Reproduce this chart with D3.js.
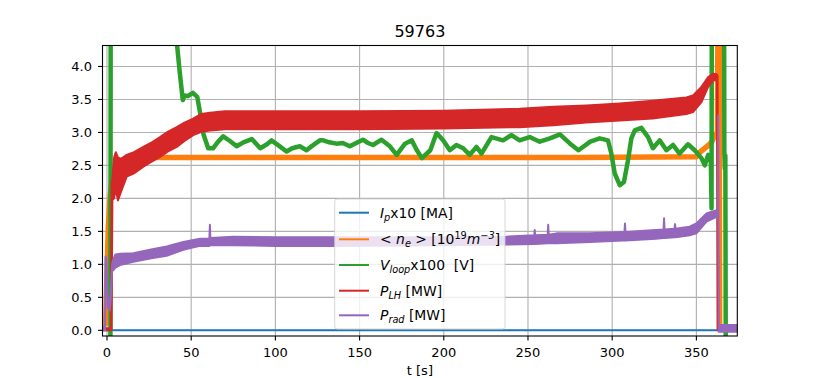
<!DOCTYPE html>
<html>
<head>
<meta charset="utf-8">
<script src="https://cdn.jsdelivr.net/npm/d3@7"></script>
<style>
body { margin: 0; background: white; }
text { font-family: "DejaVu Sans", sans-serif; white-space: pre; }
</style>
</head>
<body>
<script>
// values
const shot = '59763';
const xTicks = [0, 50, 100, 150, 200, 250, 300, 350];
const yTicks = [0.0, 0.5, 1.0, 1.5, 2.0, 2.5, 3.0, 3.5, 4.0];

const tIp = [-2.7, 100, 200, 300, 363.0];
const ipVal = [0.0, 0.0, 0.0, 0.0, 0.0];

const tNe = [-2.7, -0.8, -0.3, 0.8, 1.8, 3.7, 5.5, 8, 12, 20, 60, 120, 200, 280, 350, 352, 356, 359, 361, 362.5, 363.4, 363.8, 374.3];
const neVal = [0.1, 0.1, 0.6, 1.57, 2.02, 2.43, 2.52, 2.57, 2.61, 2.62, 2.62, 2.62, 2.62, 2.62, 2.63, 2.70, 2.78, 2.85, 2.96, 3.0, 8, 0.04, 0.04];

const tVloop = [-2.7, 2.0, 2.3, 41.0, 41.7, 43.3, 45, 46, 48, 51, 53.6, 55.2, 57.2, 60.1, 63, 66, 69, 73, 77, 81, 86, 91, 95, 97.7, 102, 106.6, 110, 114.5, 118.5, 122, 126.4, 128.4, 132, 136.3, 140, 144.2, 148, 152, 155, 158, 163, 168, 172, 177, 181, 184, 187, 192, 195.7, 199.6, 203.6, 207.5, 211.5, 215.4, 219.4, 222.4, 228.3, 235.2, 240.2, 245, 251, 257, 263, 269, 275, 280, 287, 292.6, 297.5, 299.5, 301.5, 304.5, 307, 309.4, 311.4, 313.4, 317.3, 321.3, 324.2, 328.2, 332.2, 336.1, 340, 345, 349, 353, 355, 357, 358.6, 359.0, 359.3, 366.3, 366.6, 366.9, 367.2, 367.5, 374.3];
const vloopVal = [-1, -1, 8, 4.5, 4.3, 3.89, 3.49, 3.56, 3.55, 3.60, 3.54, 3.31, 2.98, 2.76, 2.76, 2.86, 2.94, 2.87, 2.79, 2.85, 2.90, 2.76, 2.82, 2.88, 2.80, 2.71, 2.76, 2.79, 2.73, 2.80, 2.88, 2.88, 2.85, 2.83, 2.84, 2.79, 2.84, 2.89, 2.84, 2.81, 2.89, 2.79, 2.66, 2.83, 2.88, 2.73, 2.61, 2.73, 2.99, 2.88, 2.73, 2.81, 2.76, 2.66, 2.78, 2.68, 2.93, 2.88, 2.96, 2.88, 2.93, 2.86, 2.91, 2.97, 2.83, 2.73, 2.86, 2.91, 2.88, 2.68, 2.38, 2.20, 2.25, 2.58, 2.91, 3.03, 3.07, 2.93, 2.76, 2.88, 2.73, 2.81, 2.68, 2.82, 2.73, 2.61, 2.50, 2.66, 2.55, 1.85, 8, 8, 2.70, 2.45, 2.65, -1, -1];

const tPlh = [-2.7, 2.3, 2.7, 3.2, 4.2, 5.2, 6.5, 8.3, 11.7, 16, 21.6, 26, 31.5, 36, 41.4, 46, 51.2, 56, 61.2, 70, 100, 150, 200, 245, 265, 284.7, 304.5, 324, 344, 348, 353, 357, 360, 362.2, 362.6, 363, 374.3];
const plhHi = [0.03, 0.03, 2.23, 2.3, 2.62, 2.70, 2.62, 2.60, 2.66, 2.70, 2.78, 2.84, 2.93, 3.01, 3.08, 3.15, 3.21, 3.28, 3.30, 3.32, 3.32, 3.32, 3.33, 3.36, 3.39, 3.41, 3.44, 3.48, 3.53, 3.56, 3.69, 3.84, 3.89, 3.88, 3.85, 0.03, 0.03];
const plhLo = [0.0, 0.0, 0.0, 1.98, 2.0, 2.15, 1.97, 2.10, 2.33, 2.38, 2.48, 2.55, 2.63, 2.71, 2.78, 2.87, 2.96, 3.01, 3.03, 3.05, 3.05, 3.05, 3.06, 3.08, 3.11, 3.15, 3.18, 3.21, 3.28, 3.31, 3.46, 3.69, 3.79, 3.79, 0.0, 0.0, 0.0];

const tPrad = [-2.7, -1.2, -0.9, -0.3, 0.4, 1.6, 2.2, 3.0, 3.7, 5, 7.7, 15.6, 25.5, 35.4, 45.3, 55.2, 60.8, 61.1, 61.4, 75, 100, 135, 200, 237, 253.7, 254, 254.3, 261.7, 262, 262.3, 267, 286.6, 306.4, 307.3, 307.6, 307.9, 326, 330.5, 330.8, 331.1, 337, 337.3, 337.6, 346, 350, 356, 362, 362.8, 363.0, 363.3, 374.3];
const pradHi = [0.05, 0.05, 1.12, 1.10, 0.45, 0.45, 0.55, 1.0, 1.07, 1.15, 1.16, 1.17, 1.22, 1.27, 1.34, 1.39, 1.39, 1.60, 1.40, 1.42, 1.41, 1.41, 1.41, 1.42, 1.44, 1.52, 1.44, 1.45, 1.60, 1.45, 1.47, 1.47, 1.49, 1.49, 1.62, 1.49, 1.52, 1.53, 1.70, 1.53, 1.54, 1.61, 1.54, 1.57, 1.62, 1.77, 1.82, 1.84, 3.26, 0.08, 0.08];
const pradLo = [0.0, 0.0, 1.05, 1.0, 0.35, 0.3, 0.45, 0.9, 0.91, 0.95, 0.99, 1.04, 1.09, 1.13, 1.22, 1.28, 1.28, 1.30, 1.29, 1.29, 1.28, 1.28, 1.29, 1.30, 1.31, 1.31, 1.31, 1.32, 1.32, 1.32, 1.32, 1.34, 1.36, 1.36, 1.36, 1.36, 1.39, 1.40, 1.40, 1.40, 1.41, 1.41, 1.41, 1.44, 1.47, 1.65, 1.72, 1.72, 1.70, -0.02, -0.02];

const legendLabels = [
    [['I', 'i'], ['p', 'isub'], ['x10 [MA]', '']],
    [['< ', ''], ['n', 'i'], ['e', 'isub'], [' > [10', ''], ['19', 'sup'], ['m', 'i'], ['\u22123', 'isup'], [']', '']],
    [['V', 'i'], ['loop', 'isub'], ['x100  [V]', '']],
    [['P', 'i'], ['LH', 'isub'], [' [MW]', '']],
    [['P', 'i'], ['rad', 'isub'], [' [MW]', '']]
];

const C_IP = '#1f77b4', C_NE = '#ff7f0e', C_VL = '#2ca02c', C_LH = '#d62728', C_RAD = '#9467bd';
const GRID = '#b0b0b0';
const FS = 13;
const LEG_FS = 13.9;

let W = 819, H = 378;
let ax_l = 102.5, ax_t = 45.5, ax_r = 737.3, ax_b = 336;

let svg = d3.select('body').append('svg')
    .attr('width', W)
    .attr('height', H);

let x = d3.scaleLinear().domain([-2.67, 374.3]).range([ax_l, ax_r]);
let y = d3.scaleLinear().domain([-0.086, 4.318]).range([ax_b, ax_t]);

svg.append('defs').append('clipPath').attr('id', 'clip')
    .append('rect')
        .attr('x', ax_l).attr('y', ax_t)
        .attr('width', ax_r - ax_l).attr('height', ax_b - ax_t);

// grid
let grid = svg.append('g');
xTicks.forEach(function(v) {
    grid.append('line')
        .attr('x1', x(v)).attr('x2', x(v))
        .attr('y1', ax_t).attr('y2', ax_b)
        .attr('stroke', GRID).attr('stroke-width', 1.1);
});
yTicks.forEach(function(v) {
    grid.append('line')
        .attr('x1', ax_l).attr('x2', ax_r)
        .attr('y1', y(v)).attr('y2', y(v))
        .attr('stroke', GRID).attr('stroke-width', 1.1);
});

let plot = svg.append('g').attr('clip-path', 'url(#clip)');

function AddLine(ts, vals, color, w) {
    let line = d3.line()
        .x(function(i) { return x(ts[i]); })
        .y(function(i) { return y(vals[i]); });
    return plot.append('path')
        .attr('d', line(d3.range(ts.length)))
        .attr('fill', 'none')
        .attr('stroke', color)
        .attr('stroke-width', w)
        .attr('stroke-linejoin', 'round');
}

function AddBand(ts, hi, lo, color) {
    let area = d3.area()
        .x(function(i) { return x(ts[i]); })
        .y0(function(i) { return y(lo[i]); })
        .y1(function(i) { return y(hi[i]); });
    return plot.append('path')
        .attr('d', area(d3.range(ts.length)))
        .attr('fill', color)
        .attr('stroke', color)
        .attr('stroke-width', 2)
        .attr('stroke-linejoin', 'round');
}

AddLine(tIp, ipVal, C_IP, 2);
AddLine(tNe, neVal, C_NE, 5.5);
AddLine(tVloop, vloopVal, C_VL, 4.5);
AddBand(tPlh, plhHi, plhLo, C_LH);
AddBand(tPrad, pradHi, pradLo, C_RAD);

// axes frame + ticks
svg.append('rect')
    .attr('x', ax_l).attr('y', ax_t)
    .attr('width', ax_r - ax_l).attr('height', ax_b - ax_t)
    .attr('fill', 'none').attr('stroke', 'black').attr('stroke-width', 1.1);

xTicks.forEach(function(v) {
    svg.append('line')
        .attr('x1', x(v)).attr('x2', x(v))
        .attr('y1', ax_b).attr('y2', ax_b + 4.5)
        .attr('stroke', 'black').attr('stroke-width', 1.1);
    svg.append('text')
        .attr('x', x(v)).attr('y', 357)
        .attr('text-anchor', 'middle')
        .attr('font-size', FS)
        .text(v);
});
yTicks.forEach(function(v) {
    svg.append('line')
        .attr('x1', ax_l - 4.5).attr('x2', ax_l)
        .attr('y1', y(v)).attr('y2', y(v))
        .attr('stroke', 'black').attr('stroke-width', 1.1);
    svg.append('text')
        .attr('x', 92).attr('y', y(v) + 4.7)
        .attr('text-anchor', 'end')
        .attr('font-size', FS)
        .text(v.toFixed(1));
});

svg.append('text')
    .attr('x', (ax_l + ax_r) / 2).attr('y', 37.3)
    .attr('text-anchor', 'middle')
    .attr('font-size', 16)
    .text(shot);

svg.append('text')
    .attr('x', (ax_l + ax_r) / 2).attr('y', 375)
    .attr('text-anchor', 'middle')
    .attr('font-size', FS)
    .text('t [s]');

// legend
let leg = svg.append('g');
leg.append('rect')
    .attr('x', 334.7).attr('y', 199)
    .attr('width', 170.3).attr('height', 130)
    .attr('rx', 2.5)
    .attr('fill', 'white').attr('fill-opacity', 0.8)
    .attr('stroke', '#cccccc').attr('stroke-opacity', 0.8);

let legColors = [C_IP, C_NE, C_VL, C_LH, C_RAD];
let legY = [212.7, 239.3, 265, 290.7, 315.3];

function AddLegendRow(ly, color, parts) {
    leg.append('line')
        .attr('x1', 339).attr('x2', 369)
        .attr('y1', ly).attr('y2', ly)
        .attr('stroke', color).attr('stroke-width', 2);
    let t = leg.append('text')
        .attr('x', 380).attr('y', ly + 5)
        .attr('font-size', LEG_FS);
    let prev = 0;
    parts.forEach(function(p) {
        let off = 0;
        if (p[1] == 'isub') off = 2.9;
        if (p[1] == 'sup' || p[1] == 'isup') off = -5.6;
        let ts = t.append('tspan')
            .attr('dy', off - prev)
            .text(p[0]);
        if (p[1].indexOf('i') == 0) ts.attr('font-style', 'italic');
        if (off != 0) ts.attr('font-size', LEG_FS * 0.7);
        prev = off;
    });
}

for (let k = 0; k < 5; k++) {
    AddLegendRow(legY[k], legColors[k], legendLabels[k]);
}
</script>
</body>
</html>
